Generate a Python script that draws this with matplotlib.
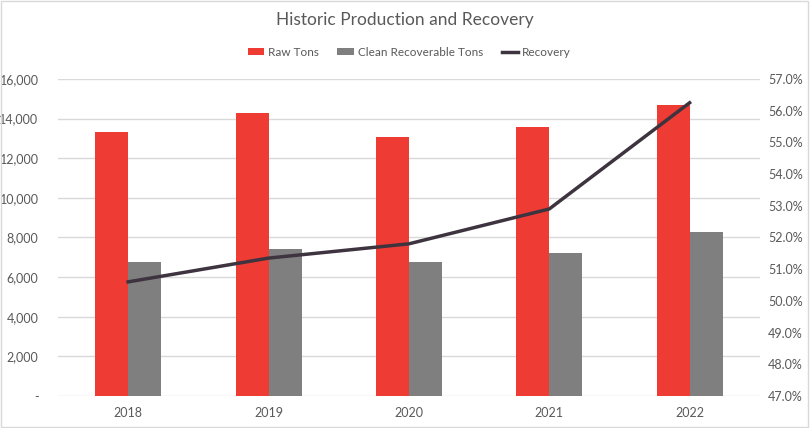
import matplotlib
matplotlib.use("Agg")
import matplotlib.pyplot as plt
from matplotlib.patches import Rectangle
from matplotlib.ticker import FuncFormatter

plt.rcParams['font.family'] = ['Lato', 'DejaVu Sans']

years = ["2018", "2019", "2020", "2021", "2022"]
raw_tons = [13350, 14300, 13050, 13600, 14700]
clean_tons = [6750, 7400, 6750, 7200, 8300]
recovery = [50.6, 51.35, 51.8, 52.9, 56.25]

left_ticks = [0, 2000, 4000, 6000, 8000, 10000, 12000, 14000, 16000]
right_ticks = [47, 48, 49, 50, 51, 52, 53, 54, 55, 56, 57]

RED = "#EE3B33"
GREY = "#7F7F7F"
LINE = "#3D3440"
TXT = "#595959"

fig = plt.figure(figsize=(8.1, 4.28), dpi=100)
ax = fig.add_axes([0.0716, 0.0748, 0.8664, 0.7406])
ax2 = ax.twinx()

x = list(range(len(years)))
w = 0.235
ax.bar([i - w / 2 for i in x], raw_tons, width=w, color=RED, label="Raw Tons", zorder=2)
ax.bar([i + w / 2 for i in x], clean_tons, width=w, color=GREY, label="Clean Recoverable Tons", zorder=2)
ax2.plot(x, recovery, color=LINE, linewidth=2.5, label="Recovery", zorder=3)

ax.set_xlim(-0.5, len(years) - 0.5)
ax.set_ylim(0, 16000)
ax2.set_ylim(47, 57)
ax.set_yticks(left_ticks)
ax2.set_yticks(right_ticks)
ax.yaxis.set_major_formatter(FuncFormatter(lambda v, p: "-" if v == 0 else f"{int(v):,}"))
ax2.yaxis.set_major_formatter(FuncFormatter(lambda v, p: f"{v:.1f}%"))
ax.set_xticks(x)
ax.set_xticklabels(years)

ax.grid(axis="y", color="#D9D9D9", linewidth=1, zorder=0)
ax.set_axisbelow(True)
for a in (ax, ax2):
    for s in a.spines.values():
        s.set_visible(False)
    a.tick_params(length=0, colors=TXT, labelsize=9)
ax.tick_params(axis="y", pad=14)
ax.tick_params(axis="x", pad=8)
ax2.tick_params(axis="y", pad=6)

fig.text(0.5, 0.953, "Historic Production and Recovery", ha="center", va="center",
         fontsize=12.5, color=TXT)

h1, l1 = ax.get_legend_handles_labels()
h2, l2 = ax2.get_legend_handles_labels()
fig.legend(h1 + h2, l1 + l2, loc="center", bbox_to_anchor=(0.505, 0.878), ncol=3,
           frameon=False, fontsize=8.5, labelcolor=TXT, handlelength=1.4, handleheight=0.6,
           columnspacing=1.6, handletextpad=0.3)

fig.patches.append(Rectangle((0.001, 0.002), 0.997, 0.995, transform=fig.transFigure,
                             fill=False, edgecolor="#D9D9D9", linewidth=1))

fig.savefig("out.png", dpi=100, facecolor="white")
